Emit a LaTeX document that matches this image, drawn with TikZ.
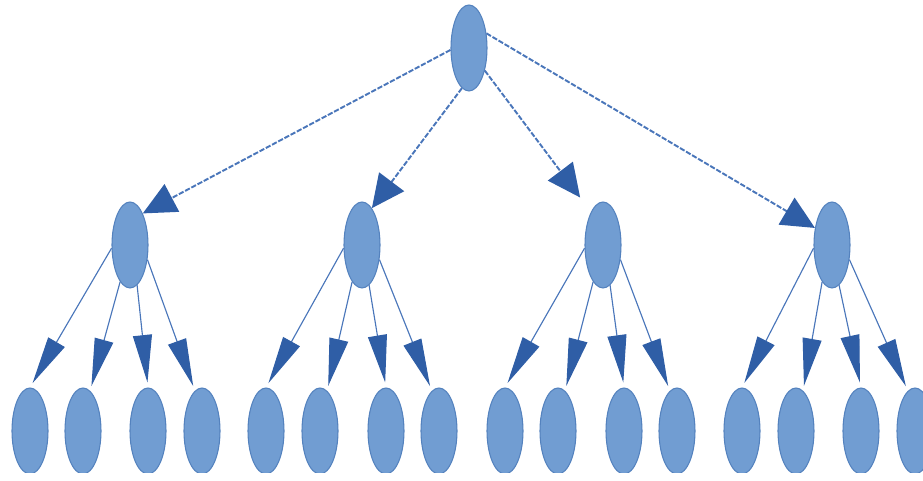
\documentclass[tikz,border=0pt]{standalone}
\usepackage{tikz}
\usetikzlibrary{shapes,arrows.meta}
\definecolor{nodefill}{RGB}{113,157,210}
\definecolor{nodeline}{RGB}{84,130,190}
\definecolor{linkblue}{RGB}{74,118,186}
\definecolor{tipblue}{RGB}{47,94,166}

\begin{document}
\begin{tikzpicture}[
  circ/.style={ellipse, fill=nodefill, draw=nodeline, line width=0.6pt, minimum width=0.72cm, minimum height=1.72cm, inner sep=0pt},
  toplink/.style={draw=linkblue, line width=1.1pt, dash pattern=on 3pt off 1pt, -{Triangle[length=0.66cm, width=0.62cm, color=tipblue]}},
  leaflink/.style={draw=linkblue, line width=0.65pt, shorten >=0.1cm, -{Triangle[length=0.95cm, width=0.38cm, color=tipblue]}}]
\useasboundingbox (0,0) rectangle (18.46, 9.62);
\clip (0,0.16) rectangle (18.46, 9.62);

\node [circ] (root) at (9.38, 8.66) {};

\node [circ] (a) at (2.60, 4.72) {};
\node [circ] (b) at (7.24, 4.72) {};
\node [circ] (c) at (12.06, 4.72) {};
\node [circ] (d) at (16.64, 4.72) {};

\node [circ] (a1) at (0.60, 1.00) {};
\node [circ] (a2) at (1.66, 1.00) {};
\node [circ] (a3) at (2.96, 1.00) {};
\node [circ] (a4) at (4.04, 1.00) {};

\node [circ] (b1) at (5.32, 1.00) {};
\node [circ] (b2) at (6.40, 1.00) {};
\node [circ] (b3) at (7.72, 1.00) {};
\node [circ] (b4) at (8.78, 1.00) {};

\node [circ] (c1) at (10.10, 1.00) {};
\node [circ] (c2) at (11.16, 1.00) {};
\node [circ] (c3) at (12.48, 1.00) {};
\node [circ] (c4) at (13.54, 1.00) {};

\node [circ] (d1) at (14.84, 1.00) {};
\node [circ] (d2) at (15.92, 1.00) {};
\node [circ] (d3) at (17.22, 1.00) {};
\node [circ] (d4) at (18.30, 1.00) {};

\draw [toplink] (root.186) -- (a.68);
\draw [toplink] (root.260) -- (b.75);
\draw [toplink, shorten >=0.36cm] (root.305) -- (c.110);
\draw [toplink] (root.40) -- (d.135);

\draw [leaflink] (a.190) -- (a1.90);
\draw [leaflink] (a.255) -- (a2.80);
\draw [leaflink] (a.280) -- (a3.90);
\draw [leaflink] (a.320) -- (a4.100);

\draw [leaflink] (b.190) -- (b1.90);
\draw [leaflink] (b.255) -- (b2.80);
\draw [leaflink] (b.280) -- (b3.90);
\draw [leaflink] (b.320) -- (b4.100);

\draw [leaflink] (c.190) -- (c1.90);
\draw [leaflink] (c.255) -- (c2.80);
\draw [leaflink] (c.280) -- (c3.90);
\draw [leaflink] (c.320) -- (c4.100);

\draw [leaflink] (d.190) -- (d1.90);
\draw [leaflink] (d.255) -- (d2.80);
\draw [leaflink] (d.280) -- (d3.90);
\draw [leaflink] (d.320) -- (d4.100);

\end{tikzpicture}
\end{document}
